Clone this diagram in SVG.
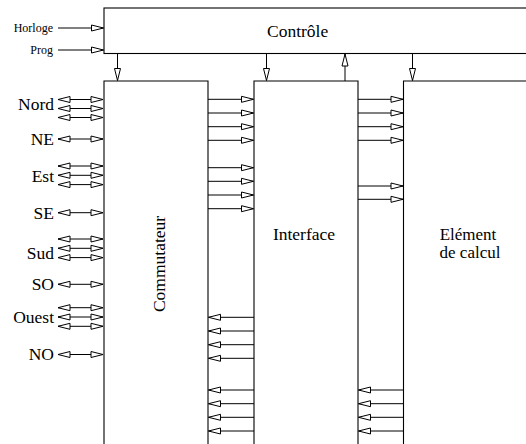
<svg xmlns="http://www.w3.org/2000/svg" width="526" height="444" viewBox="0 0 526 444">
<style>
.box{fill:#fff;stroke:#000;stroke-width:1.1}
.open{fill:none;stroke:#000;stroke-width:1.1}
.c line{stroke:#000;stroke-width:1;marker-end:url(#ah)}
.c .d{marker-start:url(#ah)}
text{font-family:"Liberation Serif","Times New Roman",serif;font-size:17.5px;fill:#000}
.sm{font-size:12px}
.r{text-anchor:end}
.m{text-anchor:middle}
.t{font-size:17px}
</style>
<defs>
<marker id="ah" viewBox="-1 -4 14 8" refX="12" refY="0" markerWidth="14" markerHeight="8" markerUnits="userSpaceOnUse" orient="auto-start-reverse">
<path d="M0,-3 L12,0 L0,3 Z" fill="#fff" stroke="#000" stroke-width="1"/>
</marker>
</defs>
<g id="controle">
<rect class="box" x="104" y="8" width="430" height="45.5"/>
<text x="267" y="37">Contrôle</text>
</g>
<g id="commutateur">
<path class="open" d="M104,450 V81 H208 V450"/>
<text class="m" transform="translate(165,264) rotate(-90)">Commutateur</text>
</g>
<g id="interface">
<path class="open" d="M254,450 V81 H358 V450"/>
<text class="m" x="304" y="240">Interface</text>
</g>
<g id="element">
<path class="open" d="M403.5,450 V81 H530"/>
<text class="m t" x="468" y="239.5">Elément</text>
<text class="m t" x="470" y="258">de calcul</text>
</g>
<g id="labels">
<text class="sm r" x="53" y="32">Horloge</text>
<text class="sm r" x="53" y="54">Prog</text>
<text class="r" x="54" y="110">Nord</text>
<text class="r" x="54" y="144.5">NE</text>
<text class="r" x="54" y="181.5">Est</text>
<text class="r" x="54" y="219">SE</text>
<text class="r" x="54" y="258.5">Sud</text>
<text class="r" x="54" y="289.5">SO</text>
<text class="r" x="54" y="322.5">Ouest</text>
<text class="r" x="54" y="359.5">NO</text>
</g>
<g id="connectors" class="c">
<line x1="58" y1="28" x2="103.5" y2="28"/>
<line x1="58" y1="50" x2="103.5" y2="50"/>
<line x1="117.5" y1="53.5" x2="117.5" y2="80.5"/>
<line x1="266.5" y1="53.5" x2="266.5" y2="80.5"/>
<line x1="345" y1="81" x2="345" y2="54"/>
<line x1="412.5" y1="53.5" x2="412.5" y2="80.5"/>
<line class="d" x1="58" y1="99.5" x2="103" y2="99.5"/>
<line class="d" x1="58" y1="108.5" x2="103" y2="108.5"/>
<line class="d" x1="58" y1="117.5" x2="103" y2="117.5"/>
<line class="d" x1="58" y1="139" x2="103" y2="139"/>
<line class="d" x1="58" y1="166" x2="103" y2="166"/>
<line class="d" x1="58" y1="175.3" x2="103" y2="175.3"/>
<line class="d" x1="58" y1="184.6" x2="103" y2="184.6"/>
<line class="d" x1="58" y1="212.7" x2="103" y2="212.7"/>
<line class="d" x1="58" y1="239" x2="103" y2="239"/>
<line class="d" x1="58" y1="248.3" x2="103" y2="248.3"/>
<line class="d" x1="58" y1="257.6" x2="103" y2="257.6"/>
<line class="d" x1="58" y1="284.3" x2="103" y2="284.3"/>
<line class="d" x1="58" y1="307.7" x2="103" y2="307.7"/>
<line class="d" x1="58" y1="317" x2="103" y2="317"/>
<line class="d" x1="58" y1="326.3" x2="103" y2="326.3"/>
<line class="d" x1="58" y1="354.5" x2="103" y2="354.5"/>
<line x1="208" y1="99.3" x2="253.5" y2="99.3"/>
<line x1="208" y1="113" x2="253.5" y2="113"/>
<line x1="208" y1="126.7" x2="253.5" y2="126.7"/>
<line x1="208" y1="140.3" x2="253.5" y2="140.3"/>
<line x1="208" y1="167.7" x2="253.5" y2="167.7"/>
<line x1="208" y1="181.3" x2="253.5" y2="181.3"/>
<line x1="208" y1="195" x2="253.5" y2="195"/>
<line x1="208" y1="208.7" x2="253.5" y2="208.7"/>
<line x1="358" y1="99.3" x2="403" y2="99.3"/>
<line x1="358" y1="113" x2="403" y2="113"/>
<line x1="358" y1="126.7" x2="403" y2="126.7"/>
<line x1="358" y1="140.3" x2="403" y2="140.3"/>
<line x1="358" y1="186" x2="403" y2="186"/>
<line x1="358" y1="199.3" x2="403" y2="199.3"/>
<line x1="254" y1="317.3" x2="208.5" y2="317.3"/>
<line x1="254" y1="331" x2="208.5" y2="331"/>
<line x1="254" y1="344.7" x2="208.5" y2="344.7"/>
<line x1="254" y1="358.3" x2="208.5" y2="358.3"/>
<line x1="254" y1="390" x2="208.5" y2="390"/>
<line x1="254" y1="403.7" x2="208.5" y2="403.7"/>
<line x1="254" y1="417.3" x2="208.5" y2="417.3"/>
<line x1="254" y1="431" x2="208.5" y2="431"/>
<line x1="403.5" y1="390" x2="358.5" y2="390"/>
<line x1="403.5" y1="403.7" x2="358.5" y2="403.7"/>
<line x1="403.5" y1="417.3" x2="358.5" y2="417.3"/>
<line x1="403.5" y1="431" x2="358.5" y2="431"/>
</g>
</svg>
